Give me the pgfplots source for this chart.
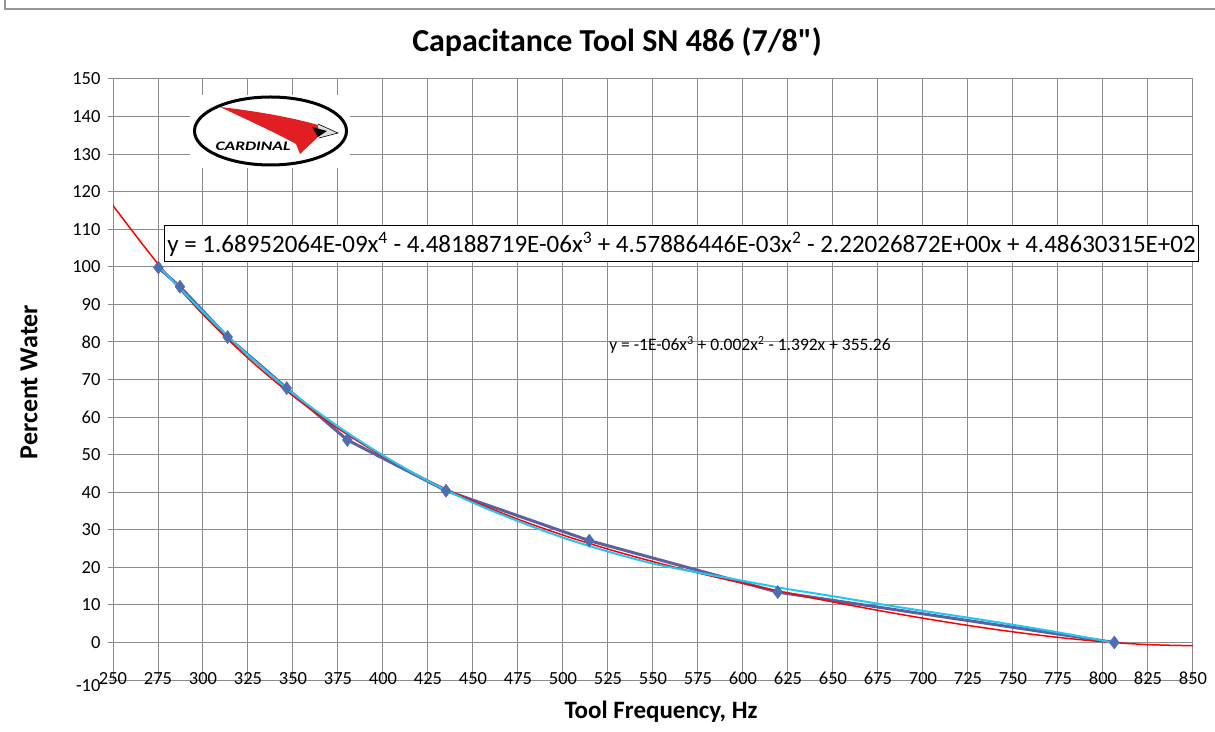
\documentclass[border=0pt]{standalone}
\usepackage{fontspec}
\setmainfont{Carlito}
\usepackage{pgfplots}
\pgfplotsset{compat=1.18}
\definecolor{gridc}{RGB}{140,140,140}
\definecolor{borderc}{RGB}{150,150,150}
\definecolor{lineC}{RGB}{92,96,158}
\definecolor{markC}{RGB}{79,110,176}
\definecolor{cyanC}{RGB}{30,200,245}
\definecolor{wingC}{RGB}{225,30,35}
\begin{document}
\begin{tikzpicture}[x=1pt,y=1pt]
\useasboundingbox (0,0) rectangle (1215,731);
\fill[white] (0,0) rectangle (1215,731);
\draw[borderc, line width=1.5pt] (5,731) -- (5,722) -- (1215,722);
\begin{axis}[
  at={(113pt,51pt)}, anchor=south west,
  scale only axis, width=1080pt, height=601pt,
  xmin=250, xmax=850, ymin=-10, ymax=150,
  xtick={250,275,...,850},
  xticklabels={250,275,300,325,350,375,400,425,450,475,500,525,550,575,600,625,650,675,700,725,750,775,800,825,850},
  ytick={-10,0,...,150},
  yticklabels={\raisebox{-5pt}[12pt][0pt]{-10},0,10,20,30,40,50,60,70,80,90,100,110,120,130,140,150},
  grid=major,
  major grid style={gridc, line width=1pt},
  axis line style={gridc, line width=1pt},
  tick style={gridc, line width=1pt},
  tick align=outside, major tick length=5pt,
  xtick style={draw=none},
  ytick pos=left, xtick pos=bottom,
  ticklabel style={font=\fontsize{18.5}{21}\selectfont, text=black},
  xticklabel style={anchor=base, yshift=1pt},
  yticklabel style={xshift=-4pt},
]
\addplot[color=lineC, line width=3pt, mark=diamond*, mark size=6.5pt,
  mark options={fill=markC, draw=markC, line width=0.5pt}]
  coordinates {(275.2,99.8)(287.2,94.7)(313.7,81.3)(346.5,67.7)(380.2,53.9)(435,40.4)(514.6,27.1)(619.3,13.4)(806.3,0)};
\addplot[color=red, line width=1.5pt, smooth]
  coordinates {(250,116.31)(275,100.79)(300,87.32)(325,75.68)(350,65.64)(375,56.99)(400,49.55)(425,43.14)(450,37.60)(475,32.79)(500,28.57)(525,24.85)(550,21.52)(575,18.50)(600,15.73)(625,13.17)(650,10.78)(675,8.54)(700,6.45)(725,4.53)(750,2.82)(775,1.35)(800,0.19)(825,-0.58)(850,-0.87)};
\addplot[color=cyanC, line width=2pt, smooth]
  coordinates {(275,100.3)(300,88.0)(325,76.5)(350,66.3)(375,57.5)(400,49.8)(425,43.0)(450,37.2)(475,32.3)(500,27.9)(525,24.2)(550,21.0)(575,18.6)(600,16.4)(625,14.2)(650,12.3)(675,10.3)(700,8.4)(725,6.6)(750,4.7)(775,2.7)(805,0.0)};
\end{axis}
% title and axis labels
\node[font=\fontsize{32}{36}\selectfont\bfseries] at (617,689) {Capacitance Tool SN 486 (7/8\textquotedbl)};
\node[font=\fontsize{26}{30}\selectfont\bfseries, rotate=90] at (29,349) {Percent Water};
\node[font=\fontsize{25}{30}\selectfont\bfseries] at (661,19) {Tool Frequency, Hz};
% logo
\fill[white] (190,563) rectangle (350,636);
\draw[black, line width=3pt] (270.5,600) ellipse [x radius=76, y radius=34];
\fill[wingC] (220,624) .. controls (255,620) and (290,614) .. (318,606) -- (324,602) -- (318,594) -- (300,577) -- (296,587) .. controls (280,596) and (250,610) .. cycle;
\fill[gray!25] (318,607) -- (338,598) -- (319,593) -- cycle;
\draw[black, line width=0.6pt] (318,607) -- (338,598) -- (319,593);
\fill[black] (312,604) -- (327,600) -- (318,594) -- cycle;
\node[font=\fontsize{13}{14}\selectfont\bfseries\itshape, xscale=1.35] at (253,585) {CARDINAL};
% equations
\node[draw=black, fill=white, line width=1pt, inner sep=3pt, minimum height=36pt, font=\fontsize{25}{28}\selectfont] at (681.5,487)
  {y = 1.68952064E-09x\textsuperscript{4} - 4.48188719E-06x\textsuperscript{3} + 4.57886446E-03x\textsuperscript{2} - 2.22026872E+00x + 4.48630315E+02};
\node[font=\fontsize{17.5}{20}\selectfont] at (750,386)
  {y = -1E-06x\textsuperscript{3} + 0.002x\textsuperscript{2} - 1.392x + 355.26};
\end{tikzpicture}
\end{document}
